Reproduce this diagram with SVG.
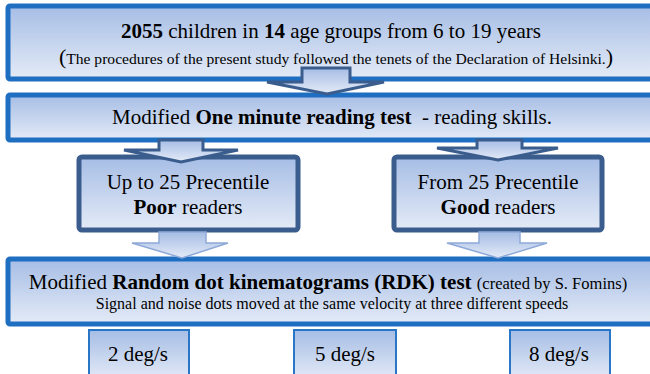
<svg xmlns="http://www.w3.org/2000/svg" width="650" height="374" viewBox="0 0 650 374">
<defs>
<linearGradient id="g" x1="0" y1="0" x2="0" y2="1">
<stop offset="0" stop-color="#a6bde5"/>
<stop offset="1" stop-color="#e4ebf7"/>
</linearGradient>
<style>
.blue{fill:url(#g);stroke:#1e6fc1;stroke-width:5}
.dark{fill:url(#g);stroke:#3b5d8d;stroke-width:5}
.thin{fill:url(#g);stroke:#2a76c6;stroke-width:2}
.arD{fill:url(#g);stroke:#3b5d8d;stroke-width:3;stroke-linejoin:miter}
.arL{fill:url(#g);stroke:#8ea9d8;stroke-width:1.5}
.t{fill:#000;text-anchor:middle;font-family:"Liberation Serif","Times New Roman",serif}
.b{font-weight:bold}
</style>
</defs>
<rect width="650" height="374" fill="#fff"/>
<g id="n1">
<rect class="blue" x="8" y="6" width="645" height="73" rx="2"/>
<text class="t" x="331" y="38" font-size="21"><tspan class="b">2055</tspan> children in <tspan class="b">14</tspan> age groups from 6 to 19 years</text>
<text class="t" x="336" y="64" font-size="15.6"><tspan font-size="22">(</tspan>The procedures of the present study followed the tenets of the Declaration of Helsinki.<tspan font-size="22">)</tspan></text>
</g>
<g id="n2">
<rect class="blue" x="8" y="95" width="645" height="45" rx="2"/>
<text class="t" x="332" y="124" font-size="21">Modified <tspan class="b">One minute reading test</tspan>&#160; - reading skills.</text>
</g>
<g id="n3">
<rect class="dark" x="79" y="157" width="219" height="73" rx="3"/>
<text class="t" x="188" y="189" font-size="21">Up to 25 Precentile</text>
<text class="t" x="188" y="214" font-size="21"><tspan class="b">Poor</tspan> readers</text>
</g>
<g id="n4">
<rect class="dark" x="394" y="157" width="208" height="73" rx="3"/>
<text class="t" x="498" y="189" font-size="21">From 25 Precentile</text>
<text class="t" x="498" y="214" font-size="21"><tspan class="b">Good</tspan> readers</text>
</g>
<g id="n5">
<rect class="blue" x="8" y="259" width="645" height="65" rx="2"/>
<text class="t" x="328" y="289" font-size="21">Modified <tspan class="b">Random dot kinematograms (RDK) test</tspan> <tspan font-size="16.5">(created by S. Fomins)</tspan></text>
<text class="t" x="332" y="309" font-size="16">Signal and noise dots moved at the same velocity at three different speeds</text>
</g>
<g id="n6">
<rect class="thin" x="89" y="330" width="100" height="50"/>
<text class="t" x="138" y="361" font-size="21">2 deg/s</text>
</g>
<g id="n7">
<rect class="thin" x="294" y="330" width="102" height="50"/>
<text class="t" x="345" y="361" font-size="21">5 deg/s</text>
</g>
<g id="n8">
<rect class="thin" x="510" y="330" width="100" height="50"/>
<text class="t" x="559" y="361" font-size="21">8 deg/s</text>
</g>
<g id="connectors">
<path class="arD" d="M302,68 L350,68 L350,82 L384,82 L327,94 L267,82 L302,82 Z"/>
<path class="arD" d="M159,140 L203,140 L203,150 L238,150 L181,162 L124,150 L159,150 Z"/>
<path class="arD" d="M477,140 L522,140 L522,148 L558,148 L498,160 L437,148 L477,148 Z"/>
<path class="arL" d="M159,232 L206,232 L206,243 L228,243 L182,258 L132,243 L159,243 Z"/>
<path class="arL" d="M479,232 L520,232 L520,243 L547,243 L498,258 L447,243 L479,243 Z"/>
</g>
</svg>
